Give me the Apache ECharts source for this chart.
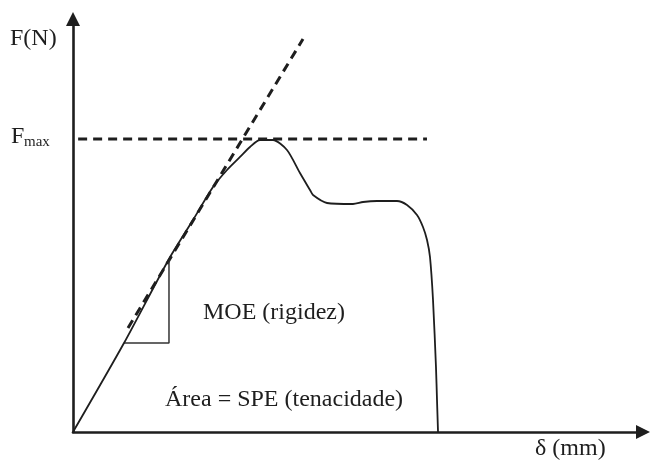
<!DOCTYPE html>
<html>
<head>
<meta charset="utf-8">
<script src="https://cdn.jsdelivr.net/npm/echarts@6/dist/echarts.min.js"></script>
<style>
  html, body { margin: 0; padding: 0; background: #fff; }
  #chart { width: 652px; height: 461px; }
</style>
</head>
<body>
<div id="chart"></div>
<script>
// load-displacement curve (arbitrary units 0..100)
const strainX = [0, 8.95, 16.84, 21.05, 24.56, 27.02, 29.3, 31.05, 32.81, 35.09, 37.54, 39.82, 41.58, 42.11, 44.56, 49.12, 50.88, 53.33, 56.84, 58.6, 60.35, 61.4, 62.11, 62.63, 63.16, 63.68, 63.86, 64.04];
const forceY  = [0, 21.55, 41.9, 51.33, 59.32, 63.44, 66.59, 69.01, 70.7, 70.7, 68.28, 62.71, 58.6, 57.38, 55.45, 55.21, 55.69, 55.93, 55.93, 54.96, 52.54, 49.64, 46.49, 42.37, 31.96, 15.74, 7.75, 0];

// dashed tangent (initial slope)
const tangentX = [9.65, 40.35];
const tangentY = [25.18, 95.16];

// Fmax level
const fmaxValue = 70.94;
const fmaxX = [0.9, 62.1];

// slope triangle
const triangleX = [8.95, 16.84, 16.84];
const triangleY = [21.55, 21.55, 41.9];

const pairs = (xs, ys) => xs.map((x, i) => [x, ys[i]]);

const chart = echarts.init(document.getElementById("chart"), null, { renderer: "canvas" });

const serif = "'Liberation Serif', 'DejaVu Serif', serif";
const ink = "#1e1e1e";

const axisBase = {
    type: "value",
    min: 0,
    max: 100,
    axisLine: {
        show: true,
        symbol: ["none", "triangle"],
        symbolSize: [14, 14],
        lineStyle: { color: ink, width: 2.6 }
    },
    axisTick: { show: false },
    axisLabel: { show: false },
    splitLine: { show: false }
};

chart.setOption({
    animation: false,
    grid: { left: 73, right: 9, top: 19, bottom: 29 },
    xAxis: Object.assign({}, axisBase),
    yAxis: Object.assign({}, axisBase),
    series: [
        {
            type: "line",
            data: pairs(strainX, forceY),
            showSymbol: false,
            smooth: 0.25,
            lineStyle: { color: ink, width: 1.8 },
            z: 3
        },
        {
            type: "line",
            data: pairs(tangentX, tangentY),
            showSymbol: false,
            lineStyle: { color: ink, width: 3, type: [9, 6] },
            z: 2
        },
        {
            type: "line",
            data: pairs(fmaxX, fmaxX.map(() => fmaxValue)),
            showSymbol: false,
            lineStyle: { color: ink, width: 3, type: [9, 6] },
            z: 2
        },
        {
            type: "line",
            data: pairs(triangleX, triangleY),
            showSymbol: false,
            lineStyle: { color: "#333", width: 1.5 },
            z: 2
        }
    ],
    graphic: [
        {
            type: "text", left: 10, top: 27,
            style: { text: "F(N)", font: "24px " + serif, fill: ink }
        },
        {
            type: "text", left: 11, top: 125,
            style: { text: "F", font: "24px " + serif, fill: ink }
        },
        {
            type: "text", left: 24, top: 135,
            style: { text: "max", font: "15px " + serif, fill: ink }
        },
        {
            type: "text", left: 203, top: 301,
            style: { text: "MOE (rigidez)", font: "24px " + serif, fill: ink }
        },
        {
            type: "text", left: 165, top: 388,
            style: { text: "Área = SPE (tenacidade)", font: "24px " + serif, fill: ink }
        },
        {
            type: "text", left: 535, top: 437,
            style: { text: "δ (mm)", font: "24px " + serif, fill: ink }
        }
    ]
});

window.addEventListener("resize", () => chart.resize());
</script>
</body>
</html>
